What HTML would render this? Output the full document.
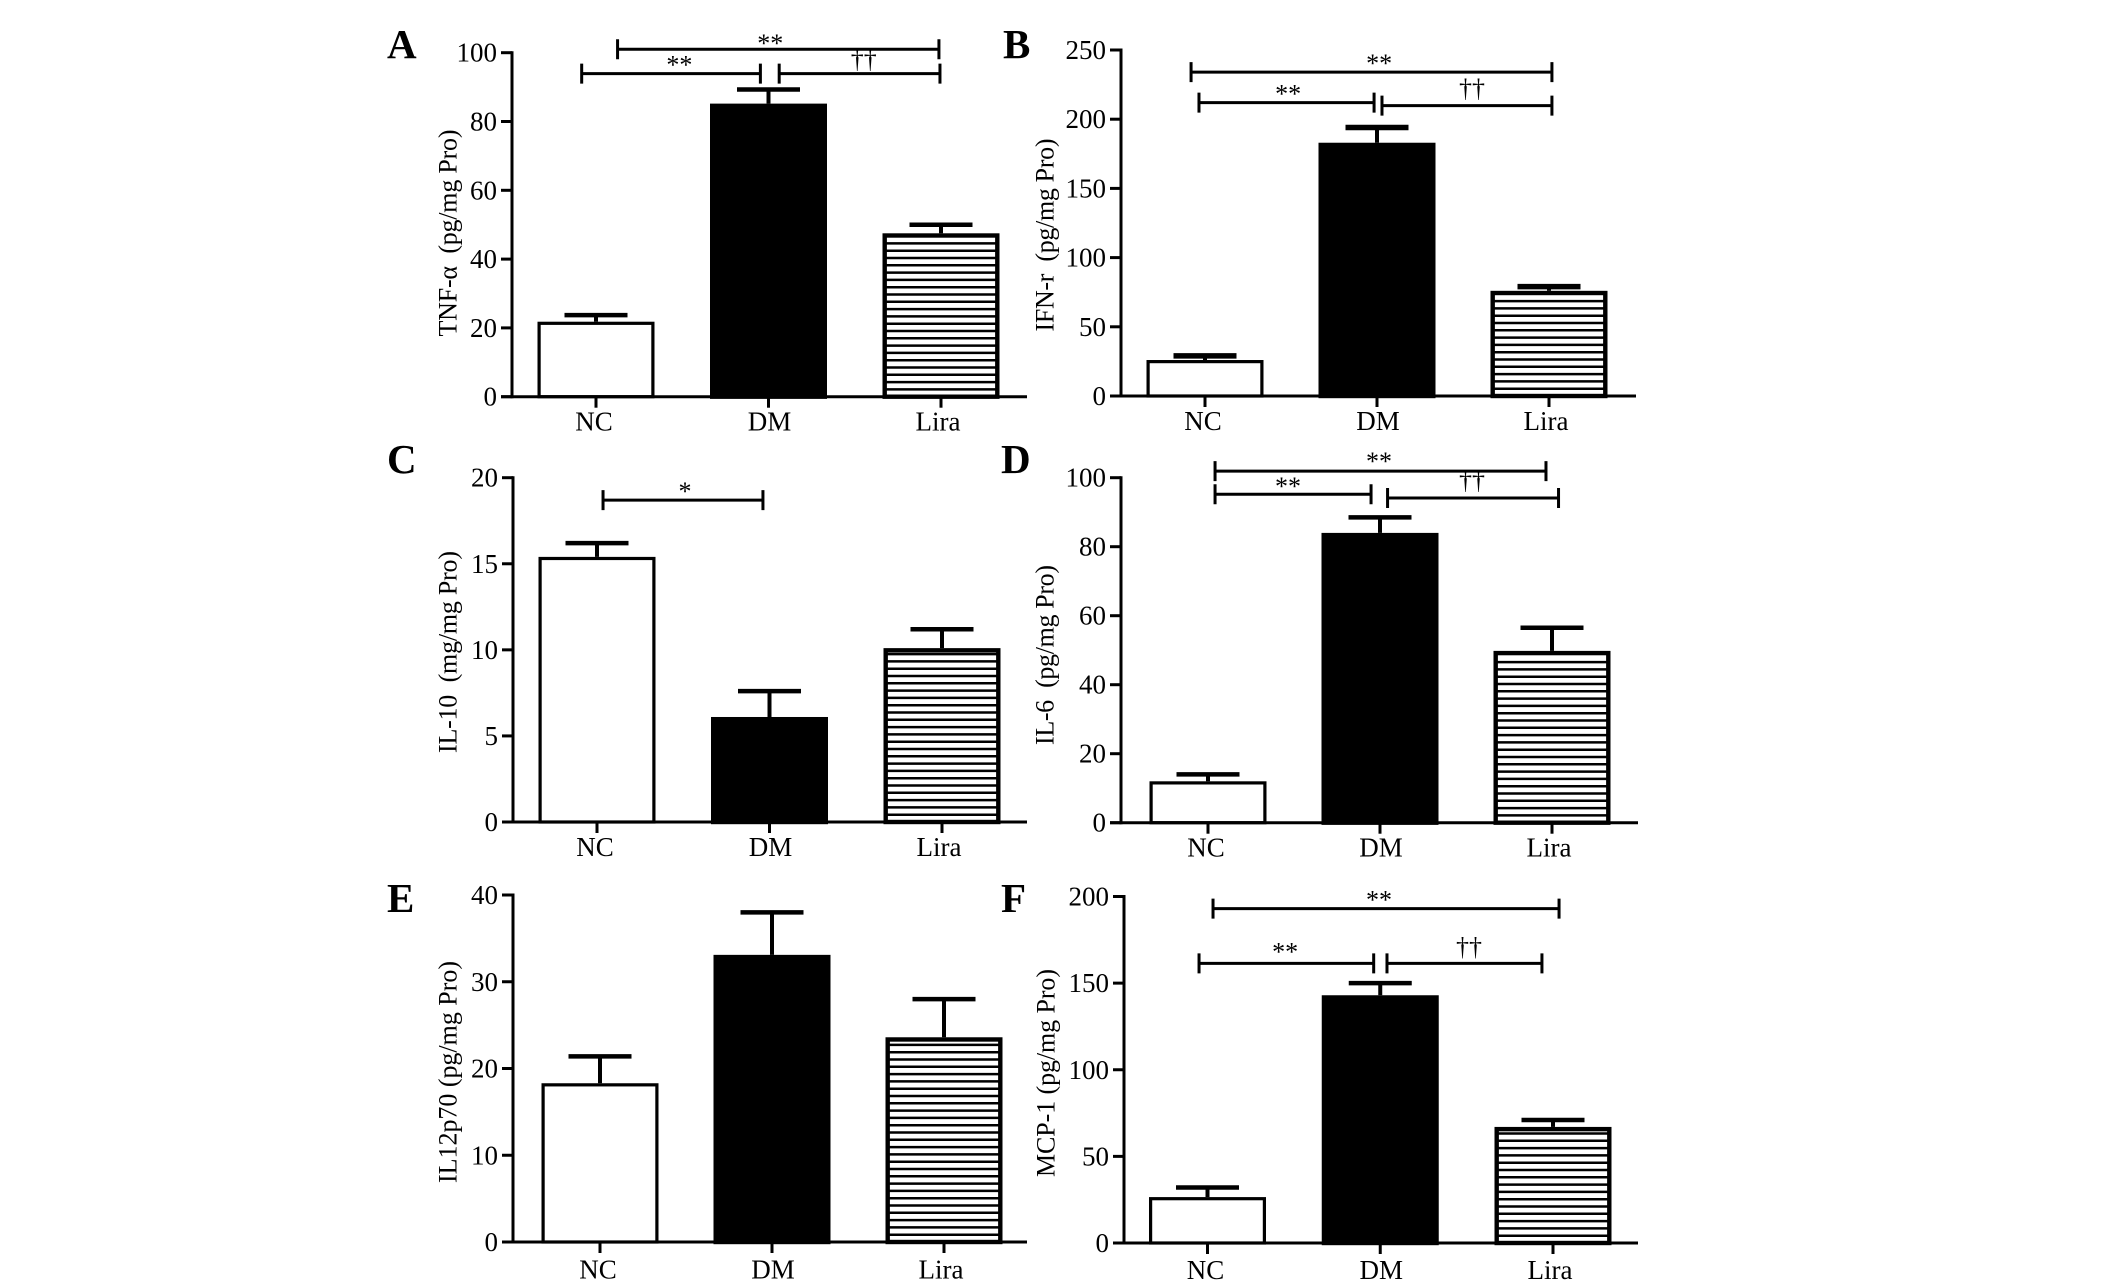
<!DOCTYPE html>
<html lang="en">
<head>
<meta charset="utf-8">
<title>Cytokine levels by group</title>
<style>
  html, body { margin: 0; padding: 0; background: #fff; }
  svg { display: block; }
  text { font-family: "Liberation Serif", "DejaVu Serif", serif; fill: #000; }
  .letter { font-size: 41px; font-weight: bold; }
  .ytitle { font-size: 26px; white-space: pre; }
</style>
</head>
<body>
<svg id="figure" width="2126" height="1286" viewBox="0 0 2126 1286" xmlns="http://www.w3.org/2000/svg">
  <g id="panel-a">
    <text class="letter" x="387" y="58">A</text>
    <text class="ytitle" transform="translate(448 233) rotate(-90)" text-anchor="middle" dominant-baseline="central" textLength="207">TNF-α  (pg/mg Pro)</text>
  </g>
  <g id="panel-b">
    <text class="letter" x="1003" y="58">B</text>
    <text class="ytitle" transform="translate(1045 235) rotate(-90)" text-anchor="middle" dominant-baseline="central" textLength="193">IFN-r  (pg/mg Pro)</text>
  </g>
  <g id="panel-c">
    <text class="letter" x="387" y="473">C</text>
    <text class="ytitle" transform="translate(448 652) rotate(-90)" text-anchor="middle" dominant-baseline="central" textLength="202">IL-10  (mg/mg Pro)</text>
  </g>
  <g id="panel-d">
    <text class="letter" x="1001" y="473">D</text>
    <text class="ytitle" transform="translate(1045 655) rotate(-90)" text-anchor="middle" dominant-baseline="central" textLength="180">IL-6  (pg/mg Pro)</text>
  </g>
  <g id="panel-e">
    <text class="letter" x="387" y="912">E</text>
    <text class="ytitle" transform="translate(448 1072) rotate(-90)" text-anchor="middle" dominant-baseline="central" textLength="222">IL12p70 (pg/mg Pro)</text>
  </g>
  <g id="panel-f">
    <text class="letter" x="1001" y="912">F</text>
    <text class="ytitle" transform="translate(1046 1073) rotate(-90)" text-anchor="middle" dominant-baseline="central" textLength="208">MCP-1 (pg/mg Pro)</text>
  </g>
</svg>
<script>
// Shared categories
const categories = ["NC", "DM", "Lira"];

// Panel data: bar means, top of each error bar, y tick labels
const valuesA = [21.8, 85.2, 47.5];
const errorTopsA = [23.7, 89.3, 50];
const ticksA = [0, 20, 40, 60, 80, 100];

const valuesB = [26, 183, 76];
const errorTopsB = [29, 194, 79];
const ticksB = [0, 50, 100, 150, 200, 250];

const valuesC = [15.4, 6.1, 10.1];
const errorTopsC = [16.2, 7.6, 11.2];
const ticksC = [0, 5, 10, 15, 20];

const valuesD = [12, 84, 49.8];
const errorTopsD = [14, 88.5, 56.5];
const ticksD = [0, 20, 40, 60, 80, 100];

const valuesE = [18.3, 33.1, 23.6];
const errorTopsE = [21.4, 38, 28];
const ticksE = [0, 10, 20, 30, 40];

const valuesF = [26.5, 143, 67];
const errorTopsF = [32, 150, 71];
const ticksF = [0, 50, 100, 150, 200];

// Significance brackets: from/to in category units, level in axis units
const bracketsA = [
  { from: 0.125, to: 1.988, level: 101, mark: "**", at: 1.01, dy: 2.7 },
  { from: -0.083, to: 0.953, level: 93.9, mark: "**", at: 0.483, dy: 0 },
  { from: 1.062, to: 1.994, level: 93.9, mark: "††", at: 1.552, dy: -5.7 }
];
const bracketsB = [
  { from: -0.081, to: 2.017, level: 234, mark: "**", at: 1.012, dy: 0 },
  { from: -0.035, to: 0.983, level: 212, mark: "**", at: 0.483, dy: 0 },
  { from: 1.029, to: 2.017, level: 209.8, mark: "††", at: 1.552, dy: -8.7 }
];
const bracketsC = [
  { from: 0.035, to: 0.962, level: 18.7, mark: "*", at: 0.51, dy: 0 }
];
const bracketsD = [
  { from: 0.041, to: 1.965, level: 101.9, mark: "**", at: 0.994, dy: -1 },
  { from: 0.041, to: 0.948, level: 95.2, mark: "**", at: 0.465, dy: 0.7 },
  { from: 1.044, to: 2.038, level: 94.1, mark: "††", at: 1.535, dy: -9 }
];
const bracketsE = [];
const bracketsF = [
  { from: 0.032, to: 2.035, level: 193, mark: "**", at: 0.993, dy: 0 },
  { from: -0.049, to: 0.962, level: 161.4, mark: "**", at: 0.449, dy: -2.7 },
  { from: 1.039, to: 1.936, level: 161.4, mark: "††", at: 1.514, dy: -7.7 }
];

// Panel geometry only (axes frame); marks are derived through the scales below
const panels = [
  { id: "a", values: valuesA, errorTops: errorTopsA, ticks: ticksA, brackets: bracketsA, axisX: 512, y0: 396.7, yTop: 52.7, x0: 596, step: 172.5, right: 1027, capThick: 4.5, labelGap: 34 },
  { id: "b", values: valuesB, errorTops: errorTopsB, ticks: ticksB, brackets: bracketsB, axisX: 1121, y0: 396, yTop: 50, x0: 1205, step: 172, right: 1636, capThick: 5.5, labelGap: 34 },
  { id: "c", values: valuesC, errorTops: errorTopsC, ticks: ticksC, brackets: bracketsC, axisX: 513, y0: 822, yTop: 477.7, x0: 597, step: 172.5, right: 1027, capThick: 4.5, labelGap: 34 },
  { id: "d", values: valuesD, errorTops: errorTopsD, ticks: ticksD, brackets: bracketsD, axisX: 1121, y0: 822.7, yTop: 477.7, x0: 1208, step: 172, right: 1638, capThick: 4.5, labelGap: 34 },
  { id: "e", values: valuesE, errorTops: errorTopsE, ticks: ticksE, brackets: bracketsE, axisX: 513, y0: 1242, yTop: 895, x0: 600, step: 172, right: 1027, capThick: 4.5, labelGap: 36.5 },
  { id: "f", values: valuesF, errorTops: errorTopsF, ticks: ticksF, brackets: bracketsF, axisX: 1124, y0: 1243, yTop: 896.5, x0: 1207.5, step: 172.75, right: 1638, capThick: 4.5, labelGap: 36 }
];

const NS = "http://www.w3.org/2000/svg";
const BAR_W = 117;
const CAP_W = 63;
const HATCH = 7.3;
const LABEL_DX = [-2, 1, -3];

function make(tag, attrs, parent) {
  const node = document.createElementNS(NS, tag);
  for (const key in attrs) node.setAttribute(key, attrs[key]);
  parent.appendChild(node);
  return node;
}

function drawPanel(p) {
  const root = document.getElementById("panel-" + p.id);
  const maxTick = Math.max(...p.ticks);
  const yScale = v => p.y0 - (v / maxTick) * (p.y0 - p.yTop);
  const xScale = i => p.x0 + i * p.step;

  // Bars with error bars
  p.values.forEach((v, i) => {
    const cx = xScale(i);
    const top = yScale(v);
    const left = cx - BAR_W / 2;
    const errY = yScale(p.errorTops[i]);

    const stem = make("line", { x1: cx, x2: cx, y1: top, y2: errY, stroke: "#000", "stroke-width": 4 }, root);
    
    

    const cap = make("line", { x1: cx - CAP_W / 2, x2: cx + CAP_W / 2, y1: errY, y2: errY, stroke: "#000", "stroke-width": p.capThick }, root);
    
    

    const sw = i === 0 ? 3.2 : 4.4;
    const fill = i === 1 ? "#000" : "#fff";
    const bar = make("rect", {
      x: left + sw / 2, y: top + sw / 2,
      width: BAR_W - sw, height: Math.max(p.y0 - top - sw / 2, 0),
      fill: fill, stroke: "#000", "stroke-width": sw
    }, root);
    
    

    if (i === 2) {
      let d = "";
      for (let y = p.y0 - HATCH; y > top + sw; y -= HATCH) {
        d += "M" + left + " " + y.toFixed(1) + "H" + (left + BAR_W);
      }
      const hatch = make("path", { d: d, stroke: "#000", "stroke-width": 2.5, fill: "none" }, root);
      
      
    }
  });

  // Y axis
  const yAxis = make("line", { x1: p.axisX, x2: p.axisX, y1: p.yTop - 1.5, y2: p.y0 + 1.5, stroke: "#000", "stroke-width": 3 }, root);
  
  

  p.ticks.forEach(t => {
    const y = yScale(t);
    const mark = make("line", { x1: p.axisX - 11, x2: p.axisX, y1: y, y2: y, stroke: "#000", "stroke-width": 3 }, root);
    
    

    const label = make("text", { x: p.axisX - 15, y: y, "text-anchor": "end", "dominant-baseline": "central", "font-size": 27 }, root);
    label.textContent = t;
    
    
  });

  // X axis
  const xAxis = make("line", { x1: p.axisX - 11, x2: p.right, y1: p.y0, y2: p.y0, stroke: "#000", "stroke-width": 3 }, root);
  
  

  categories.forEach((c, i) => {
    const x = xScale(i);
    const mark = make("line", { x1: x, x2: x, y1: p.y0, y2: p.y0 + 11, stroke: "#000", "stroke-width": 3 }, root);
    
    

    const label = make("text", { x: x + LABEL_DX[i], y: p.y0 + p.labelGap, "text-anchor": "middle", "font-size": 27 }, root);
    label.textContent = c;
    
    
  });

  // Significance brackets
  p.brackets.forEach(b => {
    const y = yScale(b.level);
    const x1 = xScale(b.from);
    const x2 = xScale(b.to);
    const line = make("path", {
      d: "M" + x1 + " " + y + "H" + x2 + "M" + x1 + " " + (y - 10) + "V" + (y + 10) + "M" + x2 + " " + (y - 10) + "V" + (y + 10),
      stroke: "#000", "stroke-width": 3, fill: "none"
    }, root);
    
    

    const mark = make("text", { x: xScale(b.at), y: y + b.dy, "text-anchor": "middle", "font-size": 26 }, root);
    mark.textContent = b.mark;
    
    
  });
}

panels.forEach(drawPanel);
</script>
</body>
</html>
